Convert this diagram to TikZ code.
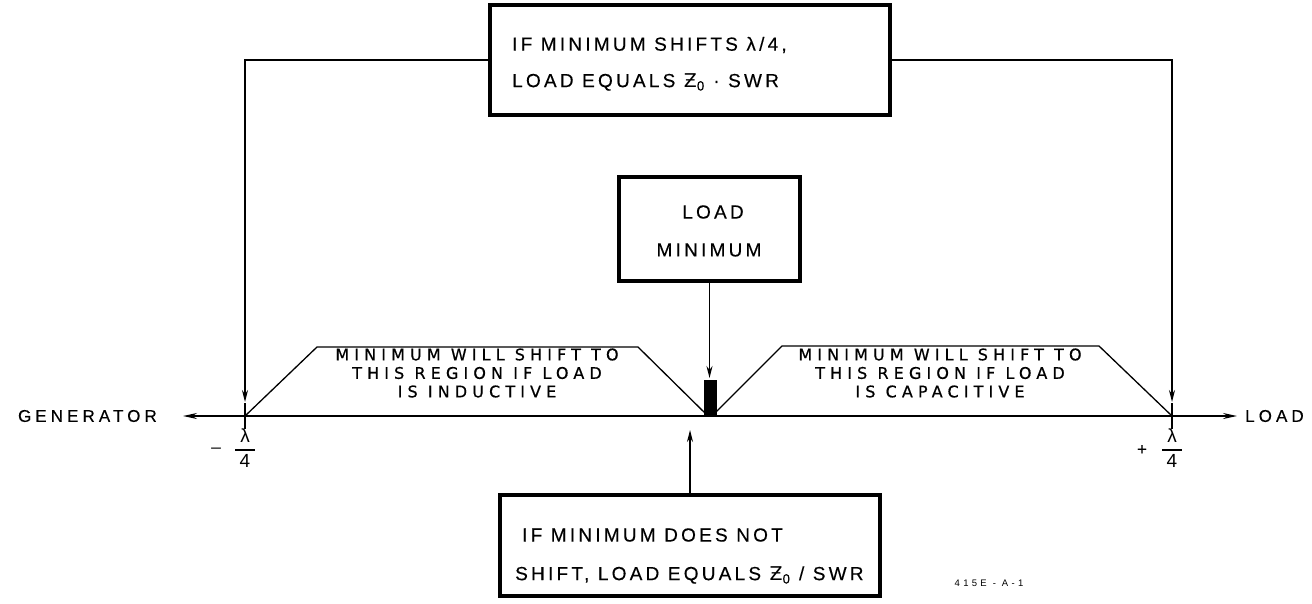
\documentclass[tikz,border=0pt]{standalone}
\usepackage{fontspec}
\setmainfont{Liberation Sans}
\newfontfamily\dvfnt{DejaVu Sans}
\newfontfamily\bigfnt[LetterSpace=17,FakeBold=0.3]{Liberation Sans}
\newfontfamily\midfnt[LetterSpace=32,FakeBold=0.6]{DejaVu Sans}
\newfontfamily\lblfnt[LetterSpace=24,FakeBold=0.3]{Liberation Sans}
\newfontfamily\idfnt[LetterSpace=35]{Liberation Sans}
\usetikzlibrary{arrows.meta}
\begin{document}
\begin{tikzpicture}[x=1pt,y=-1pt,
  box/.style={draw,line width=4pt,rectangle,inner sep=0pt},
  ln/.style={line width=1.3pt},
  arr/.style={ln,-{Stealth[length=12pt,width=6pt]}},
  bigtxt/.style={font=\bigfnt\fontsize{19}{20}\selectfont,inner sep=0pt,anchor=west},
  midtxt/.style={font=\midfnt\fontsize{16}{18.5}\selectfont,inner sep=0pt},
  lbl/.style={font=\lblfnt\fontsize{17}{18}\selectfont,inner sep=0pt},
  frac/.style={font=\fontsize{19}{20}\selectfont,inner sep=0pt}]
\useasboundingbox (0,0) rectangle (1312,603);
% boxes
\node[box,minimum width=400pt,minimum height=110pt] (top) at (690,60) {};
\node[box,minimum width=181pt,minimum height=104pt] (lm) at (709.5,229) {};
\node[box,minimum width=380pt,minimum height=101pt] (bot) at (690,545.5) {};
% texts
\node[bigtxt] (t1) at (512,45) {IF MINIMUM SHIFTS λ/4,};
\node[bigtxt] (t2) at (512,82) {LOAD EQUALS {\dvfnt Ƶ}\textsubscript{0} · SWR};
\node[bigtxt,anchor=center] (l1) at (713,212) {LOAD};
\node[bigtxt,anchor=center] (l2) at (709,250) {MINIMUM};
\node[bigtxt] (b1) at (522,535) {IF MINIMUM DOES NOT};
\node[bigtxt] (b2) at (515,575) {SHIFT, LOAD EQUALS {\dvfnt Ƶ}\textsubscript{0} / SWR};
\node[midtxt,align=center] (ind) at (477,373) {MINIMUM WILL SHIFT TO\\THIS REGION IF LOAD\\IS INDUCTIVE};
\node[midtxt,align=center] (cap) at (940,373) {MINIMUM WILL SHIFT TO\\THIS REGION IF LOAD\\IS CAPACITIVE};
\node[lbl,anchor=east] (gen) at (157,416) {GENERATOR};
\node[lbl,anchor=west] (load) at (1245,416) {LOAD};
\node[font=\idfnt\fontsize{9.5}{10}\selectfont,inner sep=0pt] (id) at (989,583) {415E - A-1};
% axis coordinates
\coordinate (L) at (245,416);
\coordinate (R) at (1172,416);
\coordinate (Ltip) at (245,402);
\coordinate (Rtip) at (1172,402);
\coordinate (gtip) at (183,416);
\coordinate (ltip) at (1237,416);
% axis
\draw[ln,{Stealth[length=14pt,width=6pt]}-{Stealth[length=14pt,width=6pt]}] (gtip) -- (ltip);
\draw[ln] (245,403) -- (245,429);
\draw[ln] (1172,403) -- (1172,429);
% trapezoids
\draw[ln] (L) -- (317,347) -- (638,347) -- (708,416);
\draw[ln] (712,416) -- (782,346) -- (1099,346) -- (R);
% black bar
\node[fill=black,minimum width=13pt,minimum height=36pt,inner sep=0pt] (bar) at (710.5,398) {};
% connectors
\draw[arr] (top.west) -| (Ltip);
\draw[arr] (top.east) -| (Rtip);
\coordinate (mtip) at (710,378);
\coordinate (btip) at (710,430);
\draw[arr] (lm.south) -- (lm.south |- mtip);
\draw[arr] (bot.north) -- (bot.north |- btip);
% lambda/4 labels
\node[lbl] (lm1) at (216,450) {–};
\node[frac] (lam1) at (245,436) {λ};
\draw[ln] (235,450) -- (255,450);
\node[frac] (four1) at (245,461) {4};
\node[lbl] (lp1) at (1142,450) {+};
\node[frac] (lam2) at (1172,436) {λ};
\draw[ln] (1162,450) -- (1182,450);
\node[frac] (four2) at (1172,461) {4};
\end{tikzpicture}
\end{document}
